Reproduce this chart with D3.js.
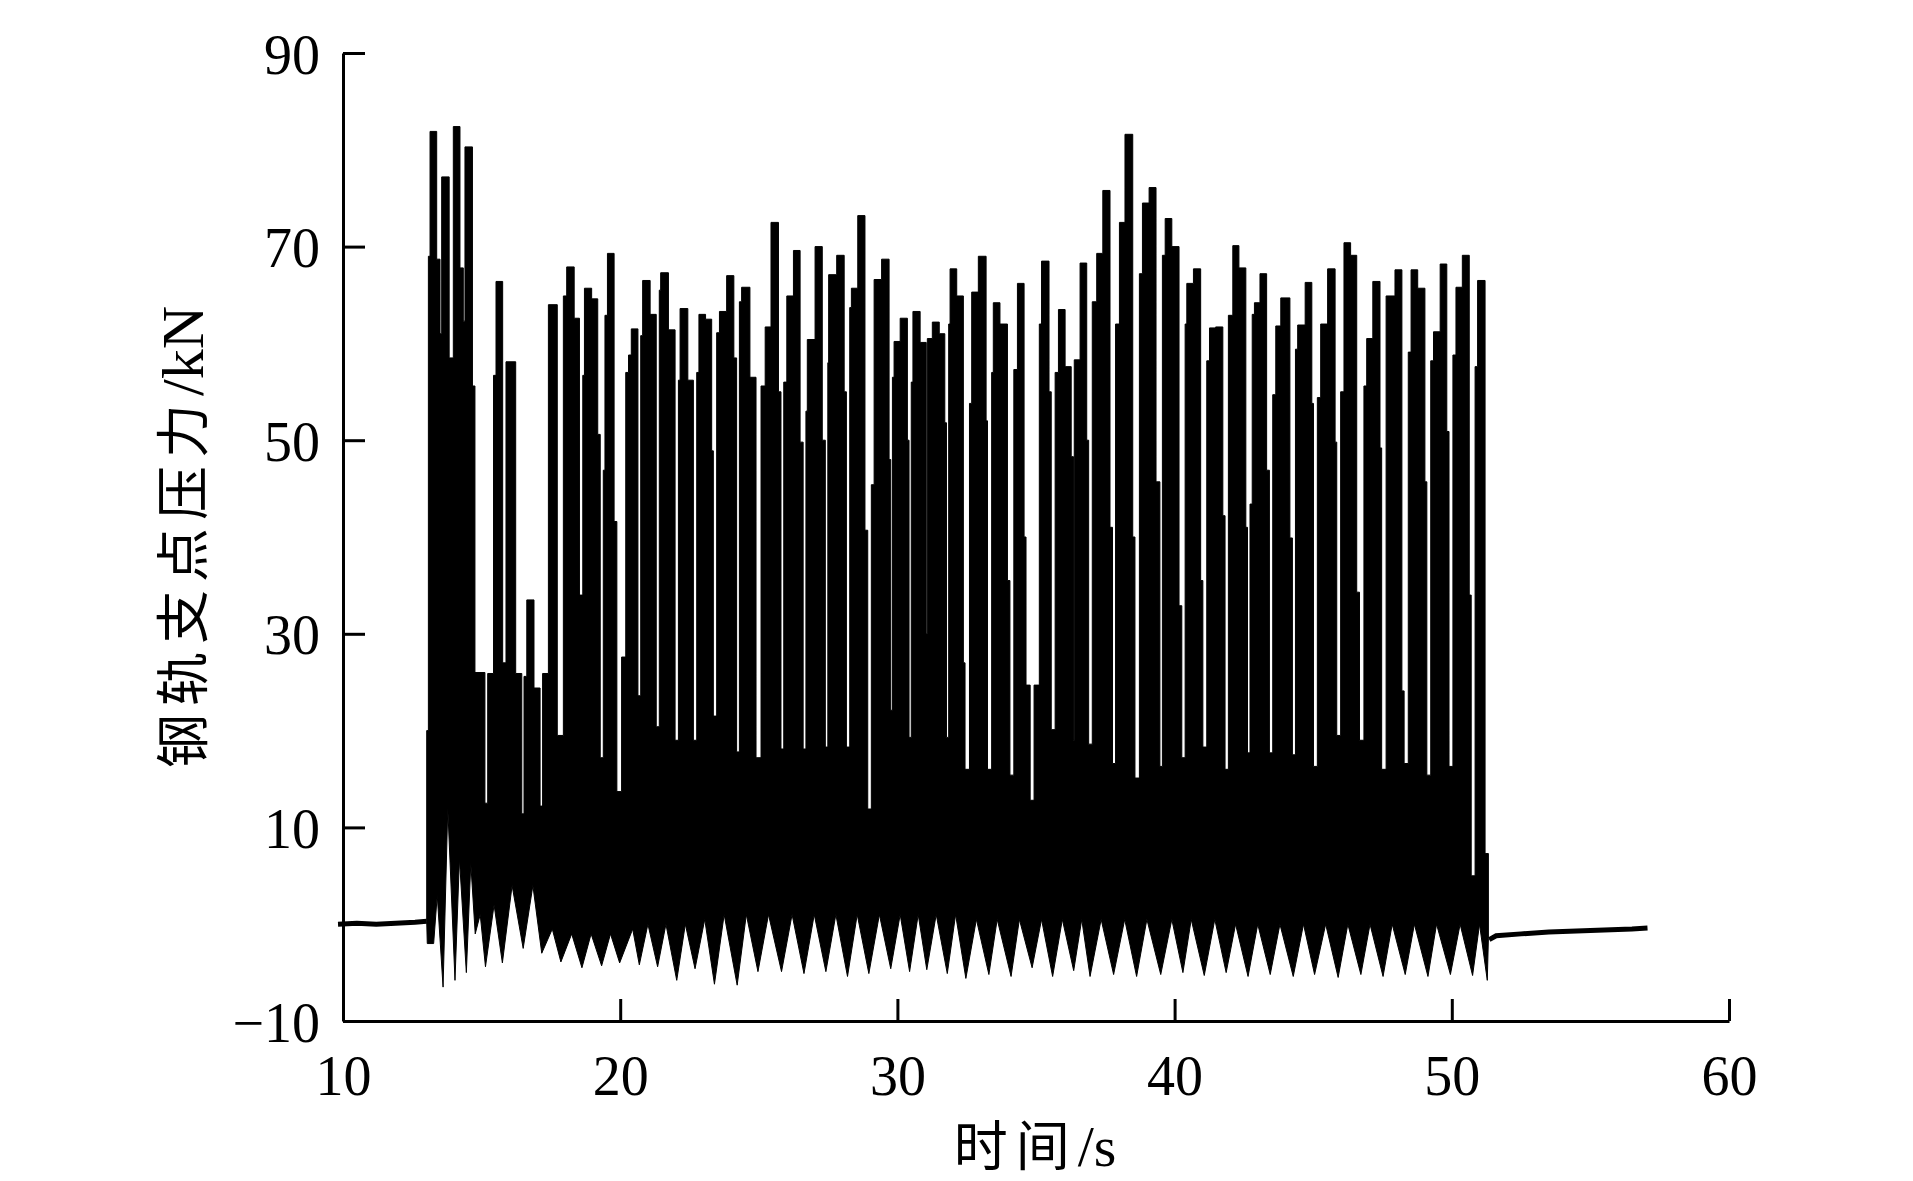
<!DOCTYPE html>
<html>
<head>
<meta charset="utf-8">
<script src="https://cdn.jsdelivr.net/npm/d3@7"></script>
<style>
  html, body { margin: 0; padding: 0; background: #fff; }
  svg { display: block; }
  .tick text { font-family: "Liberation Serif", "Times New Roman", serif; font-size: 56px; fill: #000; }
  .title { font-family: "Liberation Serif", "Noto Sans CJK SC", serif; font-size: 54px; fill: #000; }
</style>
</head>
<body>
<svg id="chart" width="1913" height="1181"></svg>
<script>
// x ticks (s) and y ticks (kN)
const xTicks = [10, 20, 30, 40, 50, 60];
const yTicks = [-10, 10, 30, 50, 70, 90];

// quiet signal before the train arrives / after it leaves
const baseBefore = [[9.82, 0.0], [10.5, 0.1], [11.2, 0.0], [11.9, 0.1], [12.6, 0.2], [13.02, 0.3]];
const baseAfter = [[51.35, -1.6], [51.6, -1.2], [52.5, -1.0], [53.5, -0.8], [54.5, -0.7],
                   [55.5, -0.6], [56.5, -0.5], [57.06, -0.4]];

// upper edge of the dense trace: [time, force] held until the next time
const upperSteps = [
  [13.02, 20], [13.08, 69], [13.14, 81.9], [13.38, 68.7], [13.50, 61], [13.56, 77.2],
  [13.83, 58.5], [13.98, 82.4], [14.22, 67.8], [14.34, 62.3], [14.40, 80.3], [14.67, 55.6],
  [14.76, 26], [15.12, 12.5], [15.22, 25.9], [15.43, 56.7], [15.52, 66.4], [15.76, 27],
  [15.88, 58.1], [16.23, 25.9], [16.45, 11.4], [16.53, 25.6], [16.63, 33.5], [16.89, 24.4],
  [17.11, 12.2], [17.20, 25.9], [17.41, 64.0], [17.73, 19.5], [17.95, 64.9], [18.07, 67.9],
  [18.34, 62.6], [18.53, 34], [18.65, 56.7], [18.71, 65.7], [18.97, 64.6], [19.19, 50.6],
  [19.28, 17.2], [19.39, 46.9], [19.45, 62.9], [19.54, 69.3], [19.78, 41.6], [19.88, 13.7],
  [20.05, 27.6], [20.20, 57], [20.30, 58.8], [20.40, 61.5], [20.64, 23.6], [20.74, 60.8],
  [20.81, 66.5], [21.08, 63.0], [21.30, 20.4], [21.41, 65.5], [21.46, 67.3], [21.74, 61.4],
  [21.98, 19], [22.10, 56.2], [22.16, 63.6], [22.44, 56.2], [22.64, 19], [22.76, 57],
  [22.84, 63.0], [23.08, 62.5], [23.30, 48.9], [23.36, 21.5], [23.48, 61.1], [23.58, 63.3],
  [23.84, 67.0], [24.10, 58.5], [24.20, 17.8], [24.30, 64.3], [24.38, 65.8], [24.68, 56.5],
  [24.90, 17.2], [25.08, 55.6], [25.23, 61.7], [25.44, 72.5], [25.71, 55], [25.80, 18.1],
  [25.90, 56], [26.01, 64.9], [26.25, 69.6], [26.49, 49.8], [26.60, 18.1], [26.70, 53],
  [26.75, 60.4], [27.03, 70.0], [27.29, 50], [27.40, 18.3], [27.49, 58], [27.52, 67.1],
  [27.81, 69.1], [28.08, 55], [28.16, 18.3], [28.28, 63.7], [28.34, 65.7], [28.57, 73.2],
  [28.83, 40.7], [28.93, 11.9], [29.06, 45.4], [29.16, 66.6], [29.43, 68.7], [29.70, 48],
  [29.76, 22.1], [29.82, 56.5], [29.88, 60.2], [30.10, 62.6], [30.36, 50], [30.42, 19.3],
  [30.50, 56], [30.56, 63.3], [30.82, 60.1], [31.04, 30], [31.08, 60.5], [31.26, 62.2],
  [31.51, 61.0], [31.71, 51.8], [31.77, 19.3], [31.85, 62], [31.90, 67.7], [32.14, 64.9],
  [32.38, 27], [32.44, 16], [32.60, 53.8], [32.68, 65.3], [32.92, 69.0], [33.20, 52],
  [33.25, 16], [33.40, 57], [33.46, 64.2], [33.70, 62.0], [33.97, 35.5], [34.06, 15.4],
  [34.20, 57.3], [34.33, 66.2], [34.57, 40], [34.64, 24.7], [34.79, 12.8], [34.93, 24.7],
  [35.12, 62], [35.20, 68.5], [35.47, 55], [35.55, 20.1], [35.69, 57], [35.81, 63.5],
  [36.05, 57.6], [36.27, 48.3], [36.35, 19], [36.38, 58.3], [36.59, 68.3], [36.83, 50],
  [36.90, 18.6], [37.03, 64.3], [37.19, 69.3], [37.41, 75.8], [37.67, 41], [37.76, 16.6],
  [37.87, 62], [38.01, 72.5], [38.21, 81.6], [38.49, 40], [38.57, 15.1], [38.73, 67.2],
  [38.84, 74.5], [39.08, 76.1], [39.33, 45.7], [39.47, 16.3], [39.56, 69.1], [39.66, 72.9],
  [39.90, 70.0], [40.16, 32.9], [40.26, 17.2], [40.38, 62], [40.44, 66.2], [40.68, 67.7],
  [40.94, 35.5], [41.02, 18.3], [41.16, 58.2], [41.26, 61.6], [41.48, 61.7], [41.74, 42.2],
  [41.82, 16], [41.94, 62.9], [42.10, 70.1], [42.32, 67.8], [42.57, 41], [42.63, 17.7],
  [42.72, 43.4], [42.80, 63], [42.88, 64.2], [43.08, 67.2], [43.32, 46.9], [43.42, 17.7],
  [43.54, 54.7], [43.65, 61.8], [43.83, 64.7], [44.16, 39.9], [44.25, 17.5], [44.36, 59.4],
  [44.44, 61.9], [44.71, 66.3], [44.95, 53.8], [45.01, 16.3], [45.15, 54.4], [45.27, 62.0],
  [45.52, 67.7], [45.79, 49.8], [45.85, 19.5], [45.99, 55], [46.11, 70.4], [46.35, 69.1],
  [46.57, 34.3], [46.67, 19], [46.83, 55.6], [46.93, 60.5], [47.15, 66.4], [47.41, 49.2],
  [47.47, 16], [47.63, 64.9], [47.95, 67.6], [48.20, 24.1], [48.28, 16.6], [48.43, 59.1],
  [48.53, 67.6], [48.77, 65.7], [49.03, 45.7], [49.10, 15.4], [49.24, 58.2], [49.34, 61.2],
  [49.58, 68.2], [49.82, 50.9], [49.90, 16.3], [50.04, 58.8], [50.15, 65.8], [50.38, 69.1],
  [50.63, 34], [50.70, 5], [50.84, 57.6], [50.93, 66.5], [51.20, 7.3]
];
const traceEnd = 51.32;

// lower edge of the dense trace: troughs and notches [time, force]
const lowerPts = [
  [13.02, 0.3], [13.04, -2.0], [13.27, -2.0], [13.40, 3], [13.61, -6.5], [13.78, 12],
  [14.04, -5.8], [14.20, 6.8], [14.45, -5.0], [14.61, 6.3], [14.77, -1], [14.95, 1],
  [15.14, -4.4], [15.45, 2], [15.75, -4.0], [16.10, 4], [16.50, -2.5], [16.85, 4],
  [17.17, -3.0], [17.55, -0.5], [17.86, -3.9], [18.25, -1], [18.62, -4.5], [18.95, -1],
  [19.33, -4.3], [19.65, -1], [19.98, -4.0], [20.45, -0.5], [20.69, -4.2], [21.00, 0],
  [21.35, -4.4], [21.65, 0], [22.04, -5.8], [22.35, 0], [22.70, -4.6], [23.05, 0.5],
  [23.40, -6.2], [23.75, 1], [24.22, -6.3], [24.55, 1], [24.97, -4.9], [25.35, 1],
  [25.82, -4.9], [26.20, 1], [26.63, -5.1], [27.00, 1], [27.42, -4.9], [27.78, 1],
  [28.20, -5.4], [28.55, 1], [28.97, -5.1], [29.35, 1], [29.76, -4.6], [30.10, 1],
  [30.44, -4.9], [30.75, 1], [31.06, -4.7], [31.40, 1], [31.80, -5.1], [32.10, 1],
  [32.47, -5.6], [32.85, 0.5], [33.30, -5.2], [33.60, 0.5], [34.10, -5.4], [34.40, 0.5],
  [34.86, -4.5], [35.20, 0.5], [35.60, -5.4], [35.95, 0.5], [36.36, -4.8], [36.65, 0.5],
  [36.95, -5.4], [37.35, 0.5], [37.80, -5.2], [38.20, 0.5], [38.63, -5.4], [39.00, 0.5],
  [39.50, -5.2], [39.90, 0.5], [40.30, -5.0], [40.60, 0.5], [41.07, -5.3], [41.45, 0.5],
  [41.86, -5.0], [42.20, 0], [42.65, -5.4], [43.00, 0], [43.45, -5.2], [43.80, 0],
  [44.28, -5.4], [44.65, 0], [45.05, -5.2], [45.45, 0], [45.90, -5.5], [46.25, 0],
  [46.72, -5.2], [47.05, 0], [47.52, -5.4], [47.85, 0], [48.32, -5.2], [48.65, 0],
  [49.14, -5.4], [49.45, 0], [49.95, -5.2], [50.30, 0], [50.75, -5.3], [51.00, 0],
  [51.28, -5.8], [51.32, -1.5]
];

const svg = d3.select("#chart");
const x = d3.scaleLinear().domain([10, 60]).range([343, 1729]);
const y = d3.scaleLinear().domain([-10, 90]).range([1021, 53]);

const line = d3.line().x(d => x(d[0])).y(d => y(d[1]));

// dense trace outline: upper steps forward, lower edge back
const outline = [];
upperSteps.forEach((d, i) => {
  const next = i < upperSteps.length - 1 ? upperSteps[i + 1][0] : traceEnd;
  outline.push([d[0], d[1]], [next, d[1]]);
});
lowerPts.slice().reverse().forEach(d => outline.push(d));

svg.append("path")
  .attr("d", line(outline) + "Z")
  .attr("fill", "#000")
  .attr("stroke", "#000")
  .attr("stroke-width", 1);

[baseBefore, baseAfter].forEach(seg => {
  svg.append("path")
    .attr("d", line(seg))
    .attr("fill", "none")
    .attr("stroke", "#000")
    .attr("stroke-width", 5);
});

// axes, ticks pointing inward
const xAxis = svg.append("g")
  .attr("transform", "translate(0,1021)")
  .call(d3.axisBottom(x).tickValues(xTicks).tickSize(-22).tickSizeOuter(0).tickPadding(34));
const yAxis = svg.append("g")
  .attr("transform", "translate(343,0)")
  .call(d3.axisLeft(y).tickValues(yTicks).tickSize(-22).tickSizeOuter(0).tickPadding(23));

[xAxis, yAxis].forEach(g => {
  g.attr("font-family", null).attr("font-size", null);
  g.select(".domain").attr("stroke", "#000").attr("stroke-width", 3);
  g.selectAll(".tick line").attr("stroke", "#000").attr("stroke-width", 3);
});
yAxis.selectAll(".tick text").attr("dy", "0.36em");

// axis titles: CJK part spaced out a little, Latin unit tight
const xTitle = svg.append("text")
  .attr("class", "title")
  .attr("x", 1035).attr("y", 1166)
  .attr("text-anchor", "middle");
xTitle.append("tspan").attr("letter-spacing", 8).text("时间");
xTitle.append("tspan").attr("font-size", 58).text("/s");

const yTitle = svg.append("text")
  .attr("class", "title")
  .attr("transform", "translate(203,537) rotate(-90)")
  .attr("text-anchor", "middle");
yTitle.append("tspan").attr("letter-spacing", 8).text("钢轨支点压力");
yTitle.append("tspan").attr("font-size", 60).text("/kN");
</script>
</body>
</html>
